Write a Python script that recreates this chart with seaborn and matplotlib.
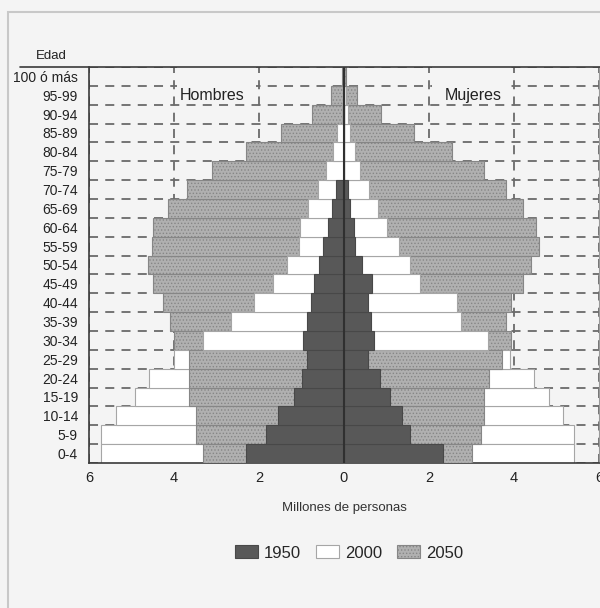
import numpy as np
import pandas as pd
import matplotlib.pyplot as plt
import seaborn as sns
from matplotlib.patches import Patch, Rectangle
from matplotlib.lines import Line2D

# Grupos de edad, de arriba hacia abajo
edades = ['100 ó más', '95-99', '90-94', '85-89', '80-84', '75-79', '70-74',
          '65-69', '60-64', '55-59', '50-54', '45-49', '40-44', '35-39',
          '30-34', '25-29', '20-24', '15-19', '10-14', '5-9', '0-4']

# Millones de personas
hombres_1950 = [0, 0, 0, 0, 0, 0, 0.18, 0.29, 0.38, 0.49, 0.6, 0.7, 0.78, 0.88,
                0.96, 0.86, 1.0, 1.17, 1.56, 1.84, 2.31]
hombres_2000 = [0.01, 0.03, 0.05, 0.16, 0.27, 0.42, 0.62, 0.84, 1.03, 1.07, 1.33,
                1.66, 2.12, 2.67, 3.31, 4.0, 4.6, 4.92, 5.37, 5.72, 5.72]
hombres_2050 = [0.05, 0.31, 0.75, 1.48, 2.3, 3.1, 3.7, 4.13, 4.5, 4.52, 4.62,
                4.49, 4.27, 4.09, 4.01, 3.64, 3.64, 3.64, 3.48, 3.48, 3.32]

mujeres_1950 = [0, 0, 0, 0, 0, 0, 0.1, 0.14, 0.24, 0.25, 0.43, 0.67, 0.57, 0.63,
                0.71, 0.57, 0.84, 1.09, 1.36, 1.55, 2.32]
mujeres_2000 = [0.01, 0.05, 0.09, 0.14, 0.27, 0.38, 0.59, 0.8, 1.0, 1.29, 1.55,
                1.79, 2.66, 2.76, 3.38, 3.91, 4.48, 4.82, 5.16, 5.41, 5.41]
mujeres_2050 = [0.05, 0.31, 0.86, 1.65, 2.54, 3.3, 3.81, 4.2, 4.52, 4.58, 4.4,
                4.2, 3.94, 3.82, 3.92, 3.71, 3.41, 3.3, 3.3, 3.22, 3.02]

anios = ['1950', '2000', '2050']
xticks = [-6, -4, -2, 0, 2, 4, 6]
xtick_labels = ['6', '4', '2', '0', '2', '4', '6']

FONDO = '#f4f4f4'
colores = {'1950': '#585858', '2000': '#ffffff', '2050': '#b0b0b0'}
bordes = {'1950': '#484848', '2000': '#a6a6a6', '2050': '#868686'}
TRAMA = '.....'

sns.set_style('white')
plt.rcParams['font.family'] = ['Liberation Sans', 'DejaVu Sans']
plt.rcParams['hatch.linewidth'] = 0.6

fig = plt.figure(figsize=(6, 6.08), dpi=100, facecolor=FONDO)
ax = fig.add_axes([89 / 600, 1 - 463 / 608, 510 / 600, 396 / 608])
ax.set_facecolor(FONDO)

series = {'1950': (hombres_1950, mujeres_1950),
          '2000': (hombres_2000, mujeres_2000),
          '2050': (hombres_2050, mujeres_2050)}

for anio in anios:
    h, m = series[anio]
    df = pd.DataFrame({'edad': edades * 2,
                       'millones': [-v for v in h] + list(m),
                       'sexo': ['Hombres'] * len(h) + ['Mujeres'] * len(m)})
    n0 = len(ax.patches)
    sns.barplot(data=df, x='millones', y='edad', hue='sexo', order=edades,
                dodge=False, palette=[colores[anio]] * 2, saturation=1,
                width=1.0, legend=False, edgecolor=bordes[anio],
                linewidth=0.8, ax=ax)
    for p in ax.patches[n0:]:
        # la barra mas corta queda delante
        p.set_zorder(3 - abs(p.get_width()) / 10)
        if anio == '2050':
            p.set_hatch(TRAMA)

# linea central
ax.axvline(0, color='#303030', lw=1.5, zorder=5)

ax.set_xlim(-6, 6)
ax.set_ylim(len(edades) - 0.5, -0.5)
ax.set_xticks(xticks)
ax.set_xticklabels(xtick_labels)
ax.set_yticks(np.arange(-0.5, len(edades), 1), minor=True)
ax.set_xlabel('')
ax.set_ylabel('')

ax.set_axisbelow(True)
ax.grid(False)
ax.grid(axis='y', which='minor', color='#6a6a6a', linestyle=(0, (5, 4)), lw=1.3)
ax.grid(axis='x', which='major', color='#6a6a6a', linestyle=(0, (5, 4)), lw=1.3)
ax.tick_params(axis='both', which='both', length=0)
ax.tick_params(axis='x', pad=6, labelsize=10.5, labelcolor='#222222')
ax.tick_params(axis='y', pad=8, labelsize=10, labelcolor='#222222')

for lado in ['left', 'bottom']:
    ax.spines[lado].set_color('#3a3a3a')
    ax.spines[lado].set_linewidth(1.2)
ax.spines['right'].set_color('#9a9a9a')
ax.spines['top'].set_visible(False)

# recuadros de las etiquetas Hombres / Mujeres
for x0 in [-3.93, 2.07]:
    ax.add_patch(Rectangle((x0, -0.5), 1.86, 1.85, facecolor=FONDO,
                           edgecolor='none', zorder=1))
ax.text(-3.1, 1, 'Hombres', ha='center', va='center', fontsize=11.5,
        color='#222222', zorder=6)
ax.text(3.05, 1, 'Mujeres', ha='center', va='center', fontsize=11.5,
        color='#222222', zorder=6)

# linea superior y marco de la figura
fig.add_artist(Line2D([20 / 600, 1], [1 - 67 / 608] * 2, color='#3a3a3a', lw=1.2))
fig.add_artist(Rectangle((8 / 600, -0.1), 1.2, (608 - 12) / 608 + 0.1,
                         transform=fig.transFigure, fill=False,
                         edgecolor='#c8c8c8', lw=1.5))

fig.text(51 / 600, 1 - 56 / 608, 'Edad', ha='center', va='center',
         fontsize=9.5, color='#222222')
fig.text(344 / 600, 1 - 508 / 608, 'Millones de personas', ha='center',
         va='center', fontsize=9.5, color='#333333')

handles = [Patch(facecolor=colores[a], edgecolor=bordes[a],
                 hatch=TRAMA if a == '2050' else None, lw=0.8) for a in anios]
fig.legend(handles, anios, loc='center', bbox_to_anchor=(349 / 600, 1 - 553 / 608),
           ncol=3, frameon=False, handlelength=1.4, handleheight=0.8,
           handletextpad=0.35, columnspacing=0.9, prop={'size': 12})

fig.savefig('out.png', dpi=100, facecolor=FONDO)
